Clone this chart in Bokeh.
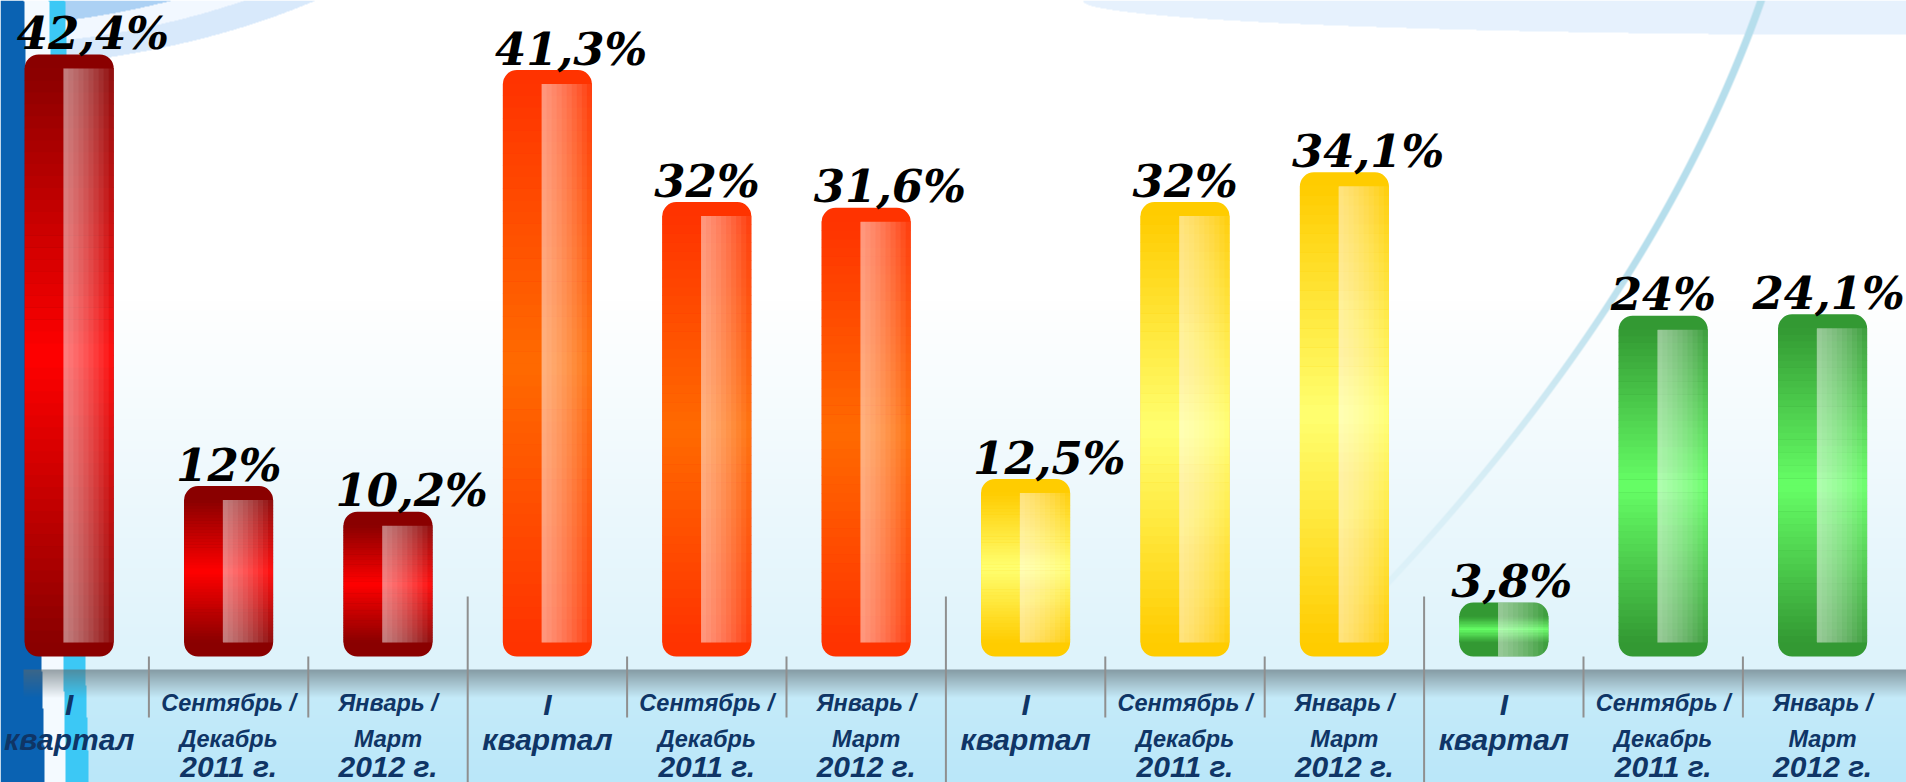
import numpy as np
from bokeh.plotting import figure
from bokeh.models import ColumnDataSource, Range1d
from bokeh.core.properties import value
from bokeh.embed import file_html
from bokeh.resources import INLINE

# ---------------- data ----------------
label_line1 = ["I", "Сентябрь /", "Январь /"] * 4
label_line2 = ["квартал", "Декабрь", "Март"] * 4
label_line3 = ["", "2011 г.", "2012 г."] * 4
values = [42.4, 12.0, 10.2, 41.3, 32.0, 31.6, 12.5, 32.0, 34.1, 3.8, 24.0, 24.1]
value_labels = ["42,4%", "12%", "10,2%", "41,3%", "32%", "31,6%",
                "12,5%", "32%", "34,1%", "3,8%", "24%", "24,1%"]

# ---------------- styles ----------------
group_end = ["#8a0000", "#ff3300", "#ffcc00", "#339933"]
group_mid = ["#ff0000", "#ff6a00", "#ffff70", "#66ff66"]
label_color = "#0f3566"
VAL_FS = 45

W, H = 1906, 782
PX = 159.4          # px per category
PY = 14.2           # px per percent
X0 = 68.7           # px of first category
BASE = 656          # px of zero line
BAR_W = 89 / PX

xs, xe = -X0 / PX, (W - X0) / PX
ys, ye = -(H - BASE) / PY, BASE / PY


def py(Y):
    return (BASE - Y) / PY


def rgb(h):
    h = h.lstrip("#")
    return np.array([int(h[i:i + 2], 16) for i in (0, 2, 4)], dtype=float)


def tohex(c):
    c = np.clip(np.round(c), 0, 255).astype(int)
    return "#%02x%02x%02x" % tuple(c)


# ---------------- background image ----------------
Yg, Xg = np.mgrid[0:H, 0:W].astype(float)
t = np.clip((Yg - 300) / (BASE - 300), 0, 1)[..., None]
img = np.array([255, 255, 255.]) + (np.array([222, 243, 251.]) - 255) * t
below = Yg >= 669
t2 = np.clip((Yg - 669) / (H - 669), 0, 1)[..., None]
low = np.array([200, 236, 250.]) + (np.array([186, 231, 249.]) - np.array([200, 236, 250.])) * t2
img[below] = low[below]

# top-right pale swoosh
g = 34 * np.sqrt(np.clip(1 - ((Xg - W) / 824) ** 2, 0, 1))
img[Yg < g] = np.array([230, 241, 253.])

# thin light-blue curve on the right
cx = 1760 - 0.35 * Yg - 0.0005 * Yg ** 2
a = np.clip(4.5 - np.abs(Xg - cx), 0, 1) * np.clip(1 - (Yg - 250) / 400, 0, 1)
img = img * (1 - a[..., None]) + np.array([182, 222, 236.]) * a[..., None]

# top-left swoosh (ellipse bands)
k = np.sqrt(((Xg + 50) / 588) ** 2 + ((Yg + 250) / 318) ** 2)
img[k < 1.0] = np.array([216, 233, 251.])
img[k < 0.93] = np.array([242, 248, 255.])
img[k < 0.87] = np.array([172, 209, 244.])

# left vertical stripes
f = Yg / H
blue_r = 23 + 21 * f
cy_l = 48 + 17 * f
cy_r = 64 + 24 * f
img[(Xg >= blue_r) & (Xg < cy_l)] = np.array([244, 250, 255.])
img[(Xg >= cy_l) & (Xg < cy_r)] = np.array([60, 200, 245.])
img[Xg < blue_r] = np.array([10, 98, 178.])

# gray shadow band under the bars
bandmask = (Yg >= 669) & (Yg < 697) & (Xg >= 23)
ba = np.clip(1 - (Yg - 669) / 28, 0, 1) * 0.6
ba = np.where(bandmask, ba, 0)[..., None]
img = img * (1 - ba) + np.array([90, 104, 110.]) * ba

img = np.flipud(np.clip(img, 0, 255).astype(np.uint8))
packed = np.empty((H, W), dtype=np.uint32)
view = packed.view(dtype=np.uint8).reshape((H, W, 4))
view[:, :, :3] = img
view[:, :, 3] = 255

# ---------------- figure ----------------
p = figure(width=W, height=H, x_range=Range1d(xs, xe), y_range=Range1d(ys, ye),
           output_backend="svg", toolbar_location=None, min_border=0,
           x_axis_location=None, y_axis_location=None,
           outline_line_color=None, background_fill_color="white",
           border_fill_color="white")
p.xgrid.grid_line_color = None
p.ygrid.grid_line_color = None

p.image_rgba(image=[packed], x=xs, y=ys, dw=xe - xs, dh=ye - ys)

idx = np.arange(len(values), dtype=float)
vals = np.array(values, dtype=float)

# separators
minor = [i + 0.5 for i in range(len(values) - 1) if (i + 1) % 3 != 0]
major = [i + 0.5 for i in range(len(values) - 1) if (i + 1) % 3 == 0]
p.segment(x0=minor, x1=minor, y0=[0] * len(minor), y1=[py(717)] * len(minor),
          line_color="#8f8f8f", line_width=2)
p.segment(x0=major, x1=major, y0=[py(596)] * len(major), y1=[ys] * len(major),
          line_color="#8f8f8f", line_width=2)

# bars: rounded base
ends = [group_end[i // 3] for i in range(len(values))]
p.vbar(x=idx, width=BAR_W, top=vals, bottom=0, fill_color=ends,
       line_color=None, border_radius=14)

# vertical gradient slices
N = 48
r = 14 / PY
L, R, B, T, C = [], [], [], [], []
for i, v in enumerate(vals):
    e = rgb(group_end[i // 3])
    m = rgb(group_mid[i // 3])
    lo, hi = r, v - r
    if hi <= lo:
        continue
    edges = np.linspace(lo, hi, N + 1)
    for kk in range(N):
        fr = (kk + 0.5) / N
        tt = 1 - abs(2 * fr - 1)
        L.append(i - BAR_W / 2)
        R.append(i + BAR_W / 2)
        B.append(edges[kk])
        T.append(edges[kk + 1] + 0.03)
        C.append(tohex(e + (m - e) * tt))
p.quad(left=L, right=R, bottom=B, top=T, fill_color=C, line_color=None)

# glossy highlight strip (stacked translucent layers)
NH = 10
a0 = 1 - (0.5) ** (1 / NH)
hl, hr, hb, ht = [], [], [], []
for i, v in enumerate(vals):
    inset = np.clip((v - 4) / 4, 0, 1) * (14 / PY)
    x_l = i - BAR_W / 2 + 0.435 * BAR_W
    hw = BAR_W * 0.565
    for kk in range(NH):
        hl.append(x_l)
        hr.append(x_l + hw * (1 - kk / NH))
        hb.append(inset)
        ht.append(v - inset)
p.quad(left=hl, right=hr, bottom=hb, top=ht, fill_color="white",
       fill_alpha=a0, line_color=None)

# value labels: start just left of the bar, kept inside the canvas
cw = {",": 0.38, "%": 0.89}
lab_x = []
for i, s in enumerate(value_labels):
    est_w = sum(cw.get(ch, 0.696) for ch in s) * VAL_FS
    left_px = X0 + (i - BAR_W / 2) * PX - 8
    left_px = min(left_px, W - 3 - est_w)
    lab_x.append((left_px - X0) / PX)
vsrc = ColumnDataSource(dict(x=lab_x, y=vals + 21 / PY, t=value_labels))
p.text(x="x", y="y", text="t", source=vsrc, text_font=value("DejaVu Serif"),
       text_font_style="bold italic", text_font_size=f"{VAL_FS}px",
       text_color="black", text_align="left", text_baseline="alphabetic")

# category labels
fs1 = ["30px" if i % 3 == 0 else "23.5px" for i in range(len(values))]
y1 = [py(704) if i % 3 == 0 else py(702) for i in range(len(values))]
y2 = [py(739) if i % 3 == 0 else py(738) for i in range(len(values))]
y3 = [py(766)] * len(values)
for lines, yy, fs in ((label_line1, y1, fs1), (label_line2, y2, fs1),
                      (label_line3, y3, ["30px"] * len(values))):
    src = ColumnDataSource(dict(x=idx, y=yy, t=lines, fs=fs))
    p.text(x="x", y="y", text="t", source=src, text_font=value("Liberation Sans"),
           text_font_style="bold italic", text_font_size="fs",
           text_color=label_color, text_align="center", text_baseline="middle")

open("out.html", "w").write(file_html(p, INLINE))
